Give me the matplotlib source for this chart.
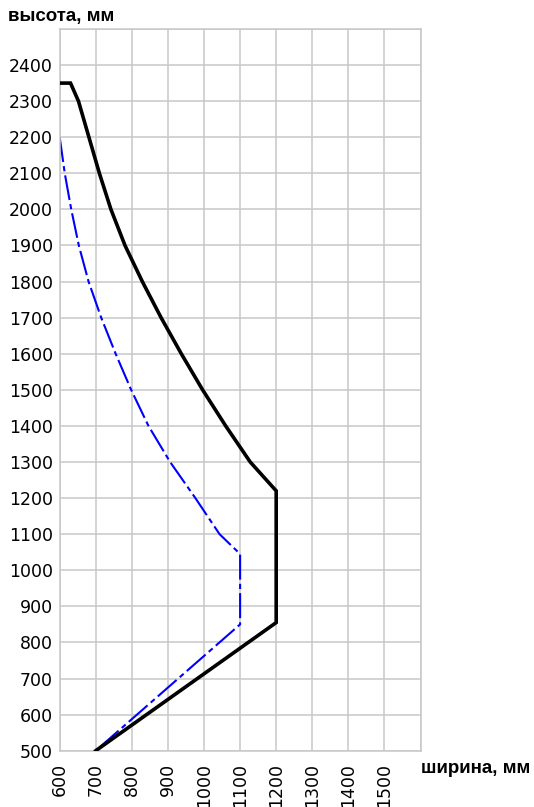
import numpy as np
import matplotlib
matplotlib.use("Agg")
from matplotlib import pyplot as plt

# габарит (чёрная линия): ширина и высота, мм
gab_w = [600, 630, 652, 681, 710, 742, 781, 829, 881, 937, 996, 1060, 1128, 1200, 1200, 700]
gab_h = [2350, 2350, 2300, 2200, 2100, 2000, 1900, 1800, 1700, 1600, 1500, 1400, 1300, 1220, 855, 500]

# второй контур (синий штрихпунктир)
kon_w = [600, 614, 632, 653, 680, 715, 755, 798, 846, 906, 976, 1043, 1100, 1100, 700]
kon_h = [2200, 2100, 2000, 1900, 1800, 1700, 1600, 1500, 1400, 1300, 1200, 1100, 1045, 850, 500]

x_ticks = list(range(600, 1600, 100))
y_ticks = list(range(500, 2500, 100))

fig = plt.figure(figsize=(5.34, 8.07), dpi=100)
ax = fig.add_axes([0.1118, 0.0698, 0.7875 - 0.1118, 0.9641 - 0.0698])

grid_c = "#c8c8c8"
for v in range(600, 1700, 100):
    ax.axvline(v, color=grid_c, lw=1.1, zorder=0)
for v in range(500, 2600, 100):
    ax.axhline(v, color=grid_c, lw=1.1, zorder=0)

ax.plot(kon_w, kon_h, color="#0000ff", lw=1.5, dashes=(12, 2, 2.5, 2), zorder=2)
ax.plot(gab_w, gab_h, color="black", lw=2.6, zorder=3, solid_joinstyle="miter")

ax.set_xlim(600, 1600)
ax.set_ylim(500, 2500)
ax.set_xticks(x_ticks)
ax.set_yticks(y_ticks)
ax.set_xticklabels([str(v) for v in x_ticks], rotation=90, fontsize=12.5,
                   family="DejaVu Sans")
ax.set_yticklabels([str(v) for v in y_ticks], fontsize=12.5, family="DejaVu Sans")
ax.tick_params(axis="x", length=0, pad=9)
ax.tick_params(axis="y", length=0, pad=5)
for s in ax.spines.values():
    s.set_color(grid_c)
    s.set_linewidth(1.1)

fig.text(0.015, 0.979, "высота, мм", fontsize=13.5, fontweight="bold",
         family="Liberation Sans", va="center", ha="left")
fig.text(0.993, 0.048, "ширина, мм", fontsize=13.5, fontweight="bold",
         family="Liberation Sans", va="center", ha="right")

plt.savefig("out.png", dpi=100)
